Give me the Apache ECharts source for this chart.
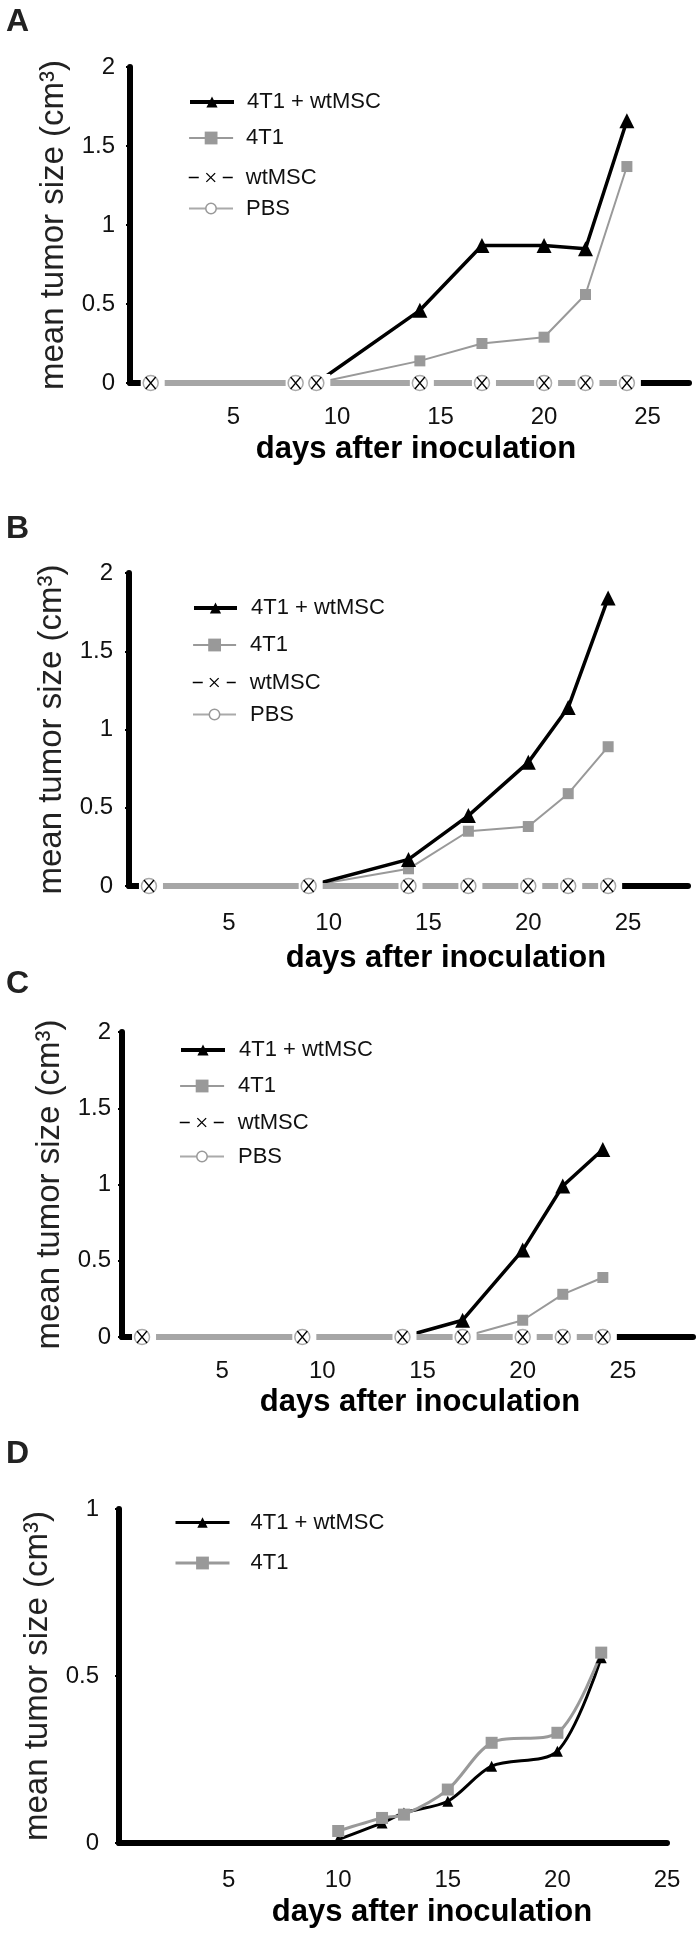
<!DOCTYPE html>
<html><head><meta charset="utf-8">
<script src="https://cdn.jsdelivr.net/npm/echarts@6/dist/echarts.min.js"></script>
<style>html,body{margin:0;padding:0;background:#fff}#c{width:700px;height:1935px}</style>
</head><body><div id="c"></div>
<script>
// ---------- data ----------
// Panel A
const A_combo_days = [9, 14, 17, 20, 22, 24];
const A_combo = [0, 0.46, 0.87, 0.87, 0.85, 1.66];
const A_4t1_days = [9, 14, 17, 20, 22, 24];
const A_4t1 = [0, 0.14, 0.25, 0.29, 0.56, 1.37];
const A_ctrl_days = [1, 8, 9, 14, 17, 20, 22, 24];
const A_wtMSC = [0, 0, 0, 0, 0, 0, 0, 0];
const A_PBS = [0, 0, 0, 0, 0, 0, 0, 0];
// Panel B
const B_combo_days = [9, 14, 17, 20, 22, 24];
const B_combo = [0, 0.17, 0.45, 0.79, 1.14, 1.84];
const B_4t1_days = [9, 14, 17, 20, 22, 24];
const B_4t1 = [0, 0.11, 0.35, 0.38, 0.59, 0.89];
const B_ctrl_days = [1, 9, 14, 17, 20, 22, 24];
const B_wtMSC = [0, 0, 0, 0, 0, 0, 0];
const B_PBS = [0, 0, 0, 0, 0, 0, 0];
// Panel C
const C_combo_days = [14, 17, 20, 22, 24];
const C_combo = [0, 0.11, 0.57, 0.99, 1.23];
const C_4t1_days = [17, 20, 22, 24];
const C_4t1 = [0, 0.11, 0.28, 0.39];
const C_ctrl_days = [1, 9, 14, 17, 20, 22, 24];
const C_wtMSC = [0, 0, 0, 0, 0, 0, 0];
const C_PBS = [0, 0, 0, 0, 0, 0, 0];
// Panel D
const D_days = [10, 12, 13, 15, 17, 20, 22];
const D_combo = [0.01, 0.06, 0.09, 0.125, 0.23, 0.275, 0.555];
const D_4t1 = [0.036, 0.075, 0.085, 0.16, 0.30, 0.33, 0.57];
// tick labels
const xTickLabels = ['5', '10', '15', '20', '25'];
const yTickLabelsABC = ['0', '0.5', '1', '1.5', '2'];
const yTickLabelsD = ['0', '0.5', '1'];
// texts
const panelLetters = ['A', 'B', 'C', 'D'];
const xTitle = 'days after inoculation';
const yTitle = 'mean tumor size (cm³)';
const legendNamesABC = ['4T1 + wtMSC', '4T1', 'wtMSC', 'PBS'];
const legendNamesD = ['4T1 + wtMSC', '4T1'];

// ---------- layout ----------
const FONT = "'Liberation Sans', Arial, Helvetica, sans-serif";
const layouts = [
  {gl:130, gt:67,   gw:559, gh:316, xmax:27,   ymax:2, yLM:15, xLM:22, xNG:51, xNP:13, yNG:50, lt:6,    lgL:188, lgW:44, lgP:8,  rows:[98,135,172,204]},
  {gl:129, gt:573,  gw:559, gh:313, xmax:28,   ymax:2, yLM:16, xLM:25, xNG:57, xNP:75, yNG:49, lt:513,  lgL:192, lgW:43, lgP:9,  rows:[604,642,677,710]},
  {gl:122, gt:1032, gw:571, gh:305, xmax:28.5, ymax:2, yLM:11, xLM:22, xNG:50, xNP:25, yNG:43, lt:968,  lgL:179, lgW:44, lgP:9,  rows:[1046,1083,1117,1152]},
  {gl:119, gt:1509, gw:548, gh:334, xmax:25,   ymax:1, yLM:20, xLM:25, xNG:54, xNP:78, yNG:56, lt:1438, lgL:174, lgW:54, lgP:16, rows:[1518,1560]}
];

const zip = (xs, ys) => xs.map((x, i) => [x, ys[i]]);
const XPATH = 'path://M0,0L10,10M10,0L0,10';

const option = {
  animation: false,
  backgroundColor: '#fff',
  title: [], grid: [], xAxis: [], yAxis: [], series: [], legend: []
};

layouts.forEach((L, i) => {
  option.title.push({text: panelLetters[i], left: 6, top: L.lt, padding: 0,
    textStyle: {fontFamily: FONT, fontSize: 32, fontWeight: 'bold', color: '#222'}});
  option.grid.push({left: L.gl, top: L.gt, width: L.gw, height: L.gh, containLabel: false});
  option.xAxis.push({
    gridIndex: i, type: 'value', min: 0, max: L.xmax, interval: 5,
    axisLine: {show: true, onZero: false, lineStyle: {color: '#000', width: 6}},
    axisTick: {show: true, length: 3, lineStyle: {color: '#000', width: 2}, customValues: xTickLabels.map(Number)},
    axisLabel: {show: true, margin: L.xLM, fontFamily: FONT, fontSize: 24, color: '#111',
      customValues: xTickLabels.map(Number), formatter: v => xTickLabels[xTickLabels.indexOf(String(v))] || ''},
    splitLine: {show: false},
    name: xTitle, nameLocation: 'middle', nameGap: L.xNG,
    nameTextStyle: {fontFamily: FONT, fontSize: 31, fontWeight: 'bold', color: '#000', lineHeight: 31, padding: [0, 0, 0, L.xNP]}
  });
  const yt = i === 3 ? yTickLabelsD : yTickLabelsABC;
  option.yAxis.push({
    gridIndex: i, type: 'value', min: 0, max: L.ymax, interval: 0.5,
    axisLine: {show: true, lineStyle: {color: '#000', width: 6}},
    axisTick: {show: true, length: 4, lineStyle: {color: '#000', width: 2}},
    axisLabel: {show: true, margin: L.yLM, fontFamily: FONT, fontSize: 24, color: '#111',
      customValues: yt.map(Number), formatter: v => yt[yt.map(Number).indexOf(v)] || ''},
    splitLine: {show: false},
    name: yTitle, nameLocation: 'middle', nameGap: L.yNG,
    nameTextStyle: {fontFamily: FONT, fontSize: 33, color: '#222', lineHeight: 33}
  });
});

function addABC(i, comboDays, combo, t1Days, t1, ctrlDays, wt, pbs) {
  const common = {type: 'line', xAxisIndex: i, yAxisIndex: i, clip: false, silent: true};
  option.series.push(Object.assign({}, common, {name: '4T1', data: zip(t1Days, t1),
    symbol: 'rect', symbolSize: 11, lineStyle: {color: '#999', width: 2}, itemStyle: {color: '#999', borderWidth: 0}}));
  option.series.push(Object.assign({}, common, {name: '4T1 + wtMSC', data: zip(comboDays, combo),
    symbol: 'triangle', symbolSize: 15, lineStyle: {color: '#000', width: 3.5}, itemStyle: {color: '#000', borderWidth: 0}}));
  // thick grey baseline of the control groups, with white gaps around the markers
  option.series.push(Object.assign({}, common, {name: 'PBS baseline', data: zip(ctrlDays, pbs),
    symbol: 'rect', symbolSize: [24, 18], symbolOffset: [2, 0], lineStyle: {color: '#a6a6a6', width: 6}, itemStyle: {color: '#fff', borderWidth: 0}}));
  option.series.push(Object.assign({}, common, {name: 'PBS', data: zip(ctrlDays, pbs),
    symbol: 'circle', symbolSize: 15, lineStyle: {opacity: 0}, itemStyle: {color: '#fff', borderColor: '#aaa', borderWidth: 1.5}}));
  option.series.push(Object.assign({}, common, {name: 'wtMSC', data: zip(ctrlDays, wt),
    symbol: XPATH, symbolSize: [10, 12], lineStyle: {opacity: 0}, itemStyle: {color: '#000', borderColor: '#000', borderWidth: 1.5}}));
}
addABC(0, A_combo_days, A_combo, A_4t1_days, A_4t1, A_ctrl_days, A_wtMSC, A_PBS);
addABC(1, B_combo_days, B_combo, B_4t1_days, B_4t1, B_ctrl_days, B_wtMSC, B_PBS);
addABC(2, C_combo_days, C_combo, C_4t1_days, C_4t1, C_ctrl_days, C_wtMSC, C_PBS);

option.series.push({type: 'line', name: '4T1 + wtMSC', xAxisIndex: 3, yAxisIndex: 3, clip: false, silent: true, smooth: 0.3,
  data: zip(D_days, D_combo), symbol: 'triangle', symbolSize: 11, lineStyle: {color: '#000', width: 3}, itemStyle: {color: '#000', borderWidth: 0}});
option.series.push({type: 'line', name: '4T1', xAxisIndex: 3, yAxisIndex: 3, clip: false, silent: true, smooth: 0.3,
  data: zip(D_days, D_4t1), symbol: 'rect', symbolSize: 12, lineStyle: {color: '#999', width: 3}, itemStyle: {color: '#999', borderWidth: 0}});

const legendStylesABC = {
  '4T1 + wtMSC': {h: 14, ls: {color: '#000', width: 4, opacity: 1}, is: {color: '#000', borderWidth: 0, opacity: 1}},
  '4T1': {h: 16, ls: {color: '#999', width: 2.2, opacity: 1}, is: {color: '#999', borderWidth: 0, opacity: 1}},
  'wtMSC': {h: 11, ls: {color: '#000', width: 1.5, type: [10, 24], opacity: 1}, is: {color: '#000', borderColor: '#000', borderWidth: 1.3, opacity: 1}},
  'PBS': {h: 13, ls: {color: '#aaa', width: 2, opacity: 1}, is: {color: '#fff', borderColor: '#999', borderWidth: 1.5, opacity: 1}}
};
const legendStylesD = {
  '4T1 + wtMSC': {h: 13, ls: {color: '#000', width: 3, opacity: 1}, is: {color: '#000', borderWidth: 0, opacity: 1}},
  '4T1': {h: 16, ls: {color: '#999', width: 3, opacity: 1}, is: {color: '#999', borderWidth: 0, opacity: 1}}
};
layouts.forEach((L, i) => {
  const names = i === 3 ? legendNamesD : legendNamesABC;
  const styles = i === 3 ? legendStylesD : legendStylesABC;
  names.forEach((n, r) => {
    const s = styles[n];
    option.legend.push({
      left: L.lgL, top: L.rows[r] - s.h / 2, padding: 0, itemGap: 0, itemWidth: L.lgW, itemHeight: s.h,
      selectedMode: false,
      data: [{name: n, lineStyle: s.ls, itemStyle: s.is}],
      textStyle: {fontFamily: FONT, fontSize: 22, color: '#111', lineHeight: s.h, padding: [0, 0, 0, L.lgP]}
    });
  });
});

const chart = echarts.init(document.getElementById('c'), null, {renderer: 'canvas'});
chart.setOption(option);
</script>
</body></html>
